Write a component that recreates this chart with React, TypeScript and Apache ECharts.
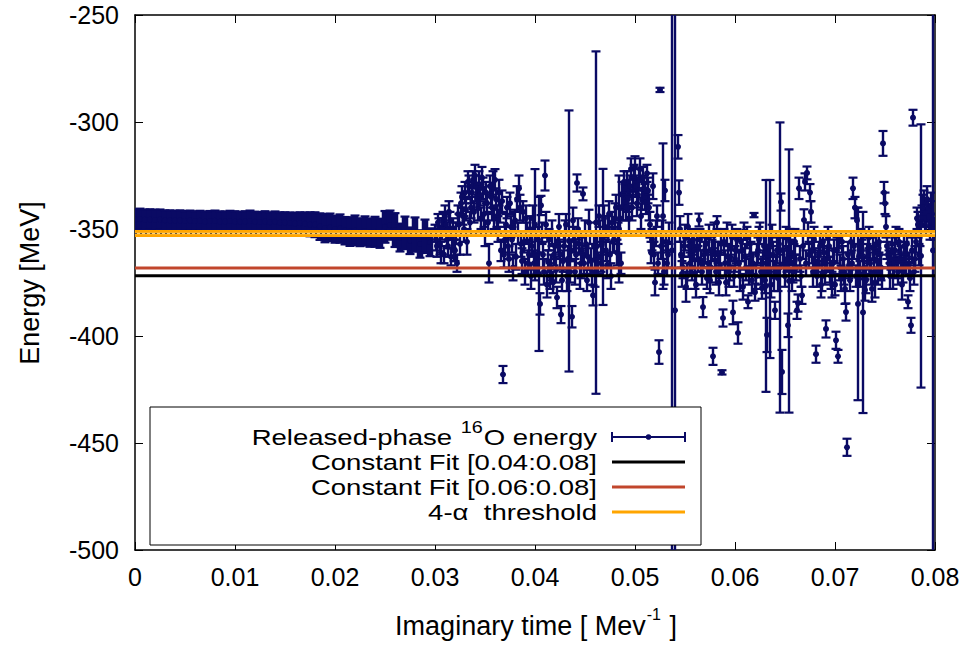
import React, { useEffect, useRef } from "react";
import * as echarts from "echarts";

// ---------------- data ----------------
const xTicks = [0, 0.01, 0.02, 0.03, 0.04, 0.05, 0.06, 0.07, 0.08];
const yTicks = [-500, -450, -400, -350, -300, -250];

// dense, well converged band: time = i * bandStep
const bandStep = 0.0005;
const bandEnergy = [
  -345.6, -345.4, -345.7, -345.5, -345.8, -345.6, -345.9, -346.0, -346.1, -346.0,
  -346.2, -346.1, -346.3, -346.2, -346.4, -346.3, -346.2, -346.4, -346.5, -346.3,
  -346.4, -346.6, -346.5, -346.3, -346.6, -346.7, -346.5, -346.8, -346.6, -346.9,
  -347.0, -347.2, -347.4, -347.3, -347.6, -347.8, -348.0, -348.9, -349.6, -349.2,
  -350.1, -349.8, -350.8, -351.2, -350.6, -351.5, -350.9, -351.7, -351.3, -352.0,
  -349.0, -348.2, -350.5, -354.0, -351.8, -355.5, -352.6, -357.0, -353.4, -356.2,
];
const bandError = [
  4.8, 4.9, 4.8, 4.7, 4.8, 4.7, 4.6, 4.7, 4.6, 4.7,
  4.6, 4.7, 4.6, 4.7, 4.6, 4.7, 4.8, 4.6, 4.7, 4.8,
  4.7, 4.6, 4.8, 4.9, 4.7, 4.6, 4.8, 4.6, 4.8, 4.7,
  4.8, 4.9, 5.0, 5.1, 5.3, 5.6, 5.8, 6.2, 6.6, 6.4,
  6.3, 6.6, 6.4, 6.7, 6.9, 6.5, 6.8, 6.6, 7.0, 6.8,
  7.4, 6.8, 7.9, 6.5, 7.6, 6.2, 8.0, 6.4, 7.8, 6.5,
];

// [time, energy, error]
const scatterEarly: number[][] = [
  [0.0300, -352, 4], [0.0302, -358, 5], [0.0304, -349, 4], [0.0306, -361, 5], [0.0308, -346, 4],
  [0.0310, -344, 5], [0.0312, -355, 4], [0.0314, -342, 5], [0.0316, -363, 4], [0.0318, -350, 5],
  [0.0320, -360, 5], [0.0322, -366, 4], [0.0324, -348, 5], [0.0326, -338, 5], [0.0328, -344, 4],
  [0.0330, -333, 5], [0.0332, -356, 6], [0.0334, -330, 5], [0.0336, -340, 5], [0.0338, -327, 4],
  [0.0340, -325, 5], [0.0342, -336, 5], [0.0344, -329, 6], [0.0346, -345, 5], [0.0348, -331, 5],
  [0.0350, -352, 6], [0.0352, -338, 5], [0.0354, -366, 9], [0.0356, -335, 5], [0.0358, -329, 6],
  [0.0360, -327, 5], [0.0362, -344, 5], [0.0364, -333, 6], [0.0366, -360, 5], [0.0368, -418, 4],
  [0.0370, -355, 6], [0.0372, -340, 5], [0.0374, -364, 6], [0.0376, -349, 5], [0.0378, -368, 6],
  [0.0380, -346, 5], [0.0382, -336, 6], [0.0384, -331, 6], [0.0386, -357, 6], [0.0388, -342, 5],
  [0.0390, -370, 6], [0.0392, -352, 5], [0.0394, -362, 7], [0.0396, -372, 6], [0.0398, -345, 6],
];
const scatterMid: number[][] = [
  [0.0400, -348, 26], [0.0402, -366, 5], [0.0404, -371, 36], [0.0405, -385, 5], [0.0406, -339, 4.5],
  [0.0408, -362, 6], [0.0410, -325, 7], [0.0412, -376, 6], [0.0414, -355, 5], [0.0416, -368, 6],
  [0.0418, -375, 5], [0.0420, -358, 6], [0.0422, -382, 5], [0.0424, -349, 6], [0.0426, -390, 4],
  [0.0428, -365, 5], [0.0430, -352, 6], [0.0432, -372, 7], [0.0434, -355.6, 61], [0.0436, -360, 5],
  [0.0437, -391, 5], [0.0438, -346, 6], [0.0440, -370, 6], [0.0442, -328.5, 4], [0.0444, -357, 5],
  [0.0446, -366, 7], [0.0448, -333.6, 3], [0.0450, -352, 6], [0.0452, -374, 5], [0.0454, -347, 6],
  [0.0456, -365, 6], [0.0458, -381, 4.7], [0.0460, -371, 6], [0.0461, -347, 80], [0.0462, -358, 6],
  [0.0464, -344, 5], [0.0466, -363, 7], [0.0468, -353.7, 31.8], [0.0470, -349, 5], [0.0472, -367, 6],
  [0.0474, -343, 6], [0.0476, -372, 6], [0.0478, -356, 5], [0.0480, -345, 7], [0.0482, -361, 6],
  [0.0484, -350, 25], [0.0486, -366, 5], [0.0488, -340, 6], [0.0490, -335, 6], [0.0492, -328, 5],
  [0.0494, -345, 6], [0.0496, -322, 5], [0.0498, -332, 6],
];
const scatterCentre: number[][] = [
  [0.0500, -321, 5], [0.0502, -338, 6], [0.0504, -327, 5], [0.0506, -344, 6], [0.0508, -326, 5],
  [0.0510, -335, 6], [0.0512, -324, 4], [0.0514, -340, 6], [0.0516, -361, 5], [0.0518, -330, 6],
  [0.0520, -375, 6], [0.0522, -344, 5], [0.0524, -407.5, 5.5], [0.0525, -285, 1], [0.0526, -358, 6],
  [0.0528, -344, 34], [0.0530, -332, 5], [0.0532, -366, 6], [0.0534, -352, 5], [0.0537, -360, 150],
  [0.0540, -388, 150], [0.0543, -311.6, 5.5], [0.0544, -333, 5.7], [0.0545, -350, 6], [0.0547, -371, 6],
  [0.0549, -358, 5], [0.0551, -377, 7], [0.0553, -349, 6], [0.0555, -366, 5],
];
const scatterLateA: number[][] = [
  [0.0556, -362, 6], [0.0558, -355, 5], [0.0560, -371, 7], [0.0562, -358, 6], [0.0564, -345.8, 3],
  [0.0566, -366, 6], [0.0568, -386.5, 4.7], [0.0570, -360, 6], [0.0572, -373, 5], [0.0574, -354, 6],
  [0.0576, -368, 7], [0.0578, -409.5, 4], [0.0580, -362, 6], [0.0582, -347, 3], [0.0584, -375, 6],
  [0.0586, -357, 5], [0.0587, -417, 1], [0.0588, -391.6, 4], [0.0590, -366, 6], [0.0592, -352, 5],
  [0.0594, -370, 7], [0.0596, -359, 6], [0.0598, -389, 5.5], [0.0600, -364, 6], [0.0602, -355, 5],
  [0.0603, -398.6, 5], [0.0605, -372, 7], [0.0607, -360, 5], [0.0609, -351, 4], [0.0611, -368, 6],
  [0.0613, -384, 3], [0.0615, -357, 6], [0.0617, -374, 6], [0.0619, -343.5, 1], [0.0620, -379.5, 4],
  [0.0622, -362, 5], [0.0624, -355, 6], [0.0626, -370, 6], [0.0627, -377.6, 5], [0.0629, -358, 5],
  [0.0631, -376.6, 49.5], [0.0632, -399.5, 8], [0.0633, -365, 6], [0.0635, -368.7, 41.6], [0.0637, -353, 5],
  [0.0639, -372, 7], [0.0640, -388, 4], [0.0642, -360, 6], [0.0644, -357, 5], [0.0645, -368, 67.8],
  [0.0646, -337.4, 4], [0.0647, -416.8, 10.3], [0.0649, -366, 6], [0.0651, -354, 5], [0.0653, -395, 5.5],
  [0.0654, -374.3, 61.5], [0.0656, -361, 6], [0.0658, -370, 5], [0.0660, -356, 6], [0.0662, -388, 4],
  [0.0663, -384.6, 4], [0.0664, -331, 5], [0.0665, -364, 6], [0.0667, -381, 4], [0.0669, -345.8, 5],
  [0.0670, -328, 4], [0.0672, -323.8, 3], [0.0674, -362, 6], [0.0675, -333, 4], [0.0676, -342, 5],
  [0.0678, -370, 7], [0.0679, -355, 6],
];
const scatterLateB: number[][] = [
  [0.0681, -408.5, 4], [0.0683, -366, 6], [0.0685, -358, 5], [0.0687, -372, 7], [0.0689, -361, 6],
  [0.0691, -396.7, 4], [0.0693, -354, 5], [0.0695, -369, 6], [0.0697, -376, 6], [0.0699, -360, 5],
  [0.0701, -402, 4], [0.0703, -409.5, 3], [0.0704, -355, 4], [0.0706, -373, 6], [0.0708, -364, 6],
  [0.0710, -378, 7], [0.0711, -388.8, 4], [0.0712, -452, 4], [0.0714, -367, 6], [0.0716, -356, 5],
  [0.0718, -331, 5], [0.0720, -340, 5], [0.0722, -346, 6], [0.0723, -385, 45], [0.0725, -371, 6],
  [0.0727, -360, 5], [0.0728, -389, 47], [0.0730, -378.5, 5], [0.0732, -363, 6], [0.0734, -354, 5],
  [0.0736, -370, 6], [0.0738, -359, 5], [0.0740, -375, 7], [0.0742, -365, 6], [0.0744, -356, 5],
  [0.0746, -368, 6], [0.0748, -310, 5.8], [0.0749, -333, 5], [0.0750, -338, 5], [0.0751, -349, 5],
  [0.0753, -362, 6], [0.0755, -372, 6], [0.0757, -357, 5], [0.0759, -366, 6], [0.0761, -353, 4],
  [0.0763, -370, 6], [0.0765, -361, 5], [0.0767, -376, 7], [0.0769, -358, 6], [0.0771, -367, 5],
  [0.0773, -384, 3], [0.0775, -373, 6], [0.0776, -395, 3.5], [0.0778, -298, 3.7], [0.0780, -364, 6],
  [0.0782, -345, 5], [0.0784, -362, 5], [0.0786, -362.6, 61.5], [0.0788, -340, 6], [0.0790, -348, 5],
  [0.0792, -336, 6], [0.0794, -344, 5], [0.0796, -339, 6], [0.0798, -360, 160], [0.0799, -350, 5],
];
// additional samples in the crowded region
const scatterFillEarly: number[][] = [
  [0.0301, -355, 5], [0.0303, -347, 4], [0.0305, -357, 5], [0.0307, -350, 5], [0.0309, -362, 4],
  [0.0311, -348, 5], [0.0313, -358, 5], [0.0315, -346, 4], [0.0317, -354, 5], [0.0319, -360, 5],
  [0.0321, -352, 5], [0.0323, -343, 4], [0.0325, -357, 5], [0.0327, -335, 5], [0.0329, -350, 6],
  [0.0331, -341, 5], [0.0333, -328, 5], [0.0335, -347, 5], [0.0337, -333, 5], [0.0339, -342, 5],
  [0.0341, -330, 5], [0.0343, -340, 6], [0.0345, -334, 5], [0.0347, -326, 5], [0.0349, -343, 6],
  [0.0351, -333, 5], [0.0353, -347, 5], [0.0355, -330, 5], [0.0357, -340, 6], [0.0359, -345, 5],
  [0.0361, -336, 5], [0.0363, -350, 6], [0.0365, -342, 5], [0.0367, -337, 5], [0.0369, -362, 6],
  [0.0371, -348, 5], [0.0373, -358, 6], [0.0375, -338, 5], [0.0377, -355, 6], [0.0379, -347, 5],
  [0.0381, -363, 6], [0.0383, -352, 5], [0.0385, -340, 6], [0.0387, -365, 6], [0.0389, -356, 5],
  [0.0391, -345, 6], [0.0393, -366, 6], [0.0395, -350, 6], [0.0397, -358, 5], [0.0399, -366, 6],
];
const scatterFillMid: number[][] = [
  [0.0403, -355, 6], [0.0407, -352, 5], [0.0409, -370, 6], [0.0411, -348, 6], [0.0413, -365, 5],
  [0.0415, -372, 6], [0.0417, -352, 6], [0.0419, -362, 5], [0.0421, -369, 6], [0.0423, -356, 5],
  [0.0425, -362, 6], [0.0427, -374, 5], [0.0429, -358, 6], [0.0431, -348, 5], [0.0433, -364, 6],
  [0.0435, -370, 5], [0.0439, -355, 6], [0.0441, -362, 6], [0.0443, -350, 5], [0.0445, -372, 6],
  [0.0447, -360, 6], [0.0449, -366, 5], [0.0451, -357, 6], [0.0453, -363, 6], [0.0455, -352, 5],
  [0.0457, -370, 6], [0.0459, -358, 6], [0.0463, -366, 5], [0.0465, -352, 6], [0.0467, -357, 5],
  [0.0469, -345, 6], [0.0471, -360, 5], [0.0473, -350, 6], [0.0475, -362, 6], [0.0477, -347, 5],
  [0.0479, -355, 6], [0.0481, -340, 6], [0.0483, -352, 5], [0.0485, -345, 6], [0.0487, -334, 6],
  [0.0489, -328, 5], [0.0491, -340, 6], [0.0493, -336, 6], [0.0495, -330, 5], [0.0497, -340, 6],
  [0.0499, -326, 6], [0.0501, -330, 5], [0.0503, -334, 6], [0.0505, -322, 5], [0.0507, -336, 5],
  [0.0509, -331, 6], [0.0511, -338, 5], [0.0513, -332, 6], [0.0515, -348, 6], [0.0517, -355, 5],
  [0.0519, -362, 6], [0.0521, -352, 6], [0.0523, -366, 5], [0.0527, -352, 6], [0.0529, -370, 6],
  [0.0531, -356, 5], [0.0533, -362, 6],
];
const scatterFillLate: number[][] = [
  [0.0546, -362, 6], [0.0548, -368, 5], [0.0550, -354, 6], [0.0552, -372, 6], [0.0554, -358, 5],
  [0.0557, -368, 6], [0.0559, -360, 5], [0.0561, -376, 6], [0.0563, -364, 6], [0.0565, -355, 5],
  [0.0567, -370, 6], [0.0569, -362, 6], [0.0571, -357, 5], [0.0573, -366, 6], [0.0575, -374, 6],
  [0.0577, -360, 5], [0.0579, -353, 6], [0.0581, -370, 6], [0.0583, -361, 5], [0.0585, -367, 6],
  [0.0589, -356, 6], [0.0591, -375, 6], [0.0593, -363, 5], [0.0595, -368, 6], [0.0597, -354, 6],
  [0.0599, -372, 5], [0.0601, -360, 6], [0.0604, -366, 6], [0.0606, -356, 5], [0.0608, -377, 6],
  [0.0610, -363, 6], [0.0612, -354, 5], [0.0614, -370, 6], [0.0616, -362, 6], [0.0618, -366, 5],
  [0.0621, -372, 6], [0.0623, -360, 6], [0.0625, -352, 5], [0.0628, -366, 6], [0.0630, -374, 6],
  [0.0634, -358, 5], [0.0636, -376, 6], [0.0638, -362, 6], [0.0641, -368, 5], [0.0643, -373, 6],
  [0.0648, -360, 6], [0.0650, -372, 5], [0.0652, -364, 6], [0.0655, -356, 6], [0.0657, -374, 5],
  [0.0659, -363, 6], [0.0661, -368, 6], [0.0666, -372, 5], [0.0668, -358, 6], [0.0671, -366, 6],
  [0.0673, -352, 5], [0.0677, -360, 6], [0.0680, -365, 6], [0.0682, -372, 5], [0.0684, -362, 6],
  [0.0686, -376, 6], [0.0688, -356, 5], [0.0690, -370, 6], [0.0692, -364, 6], [0.0694, -358, 5],
  [0.0696, -372, 6], [0.0698, -366, 6], [0.0700, -376, 5], [0.0702, -360, 6], [0.0705, -368, 6],
  [0.0707, -356, 5], [0.0709, -370, 6], [0.0713, -362, 6], [0.0715, -374, 5], [0.0717, -366, 6],
  [0.0719, -358, 6], [0.0721, -372, 5], [0.0724, -363, 6], [0.0726, -356, 6], [0.0729, -368, 5],
  [0.0731, -374, 6], [0.0733, -360, 6], [0.0735, -366, 5], [0.0737, -378, 6], [0.0739, -364, 6],
  [0.0741, -357, 5], [0.0743, -370, 6], [0.0745, -362, 6], [0.0747, -373, 5], [0.0752, -358, 6],
  [0.0754, -366, 6], [0.0756, -364, 5], [0.0758, -372, 6], [0.0760, -360, 6], [0.0762, -368, 5],
  [0.0764, -356, 6], [0.0766, -364, 6], [0.0768, -370, 5], [0.0770, -362, 6], [0.0772, -357, 6],
  [0.0774, -366, 5], [0.0777, -360, 6], [0.0779, -370, 6], [0.0781, -356, 5], [0.0783, -348, 6],
  [0.0785, -352, 6], [0.0787, -344, 5], [0.0789, -338, 6], [0.0791, -346, 6], [0.0793, -341, 5],
  [0.0795, -349, 6], [0.0797, -343, 6],
];

const fitRange004 = -371.8;
const fitRange006 = -368.2;
const alphaThreshold = -352.1;

const legendLabels = [
  "Constant Fit [0.04:0.08]",
  "Constant Fit [0.06:0.08]",
  "4-\u03b1  threshold",
];

// ---------------- style ----------------
const FONT = '"Liberation Sans", Arial, Helvetica, sans-serif';
const NAVY = "#0a0a64";
const BLACK = "#000000";
const RED = "#c1462c";
const ORANGE = "#ffa500";

function textWidth(s: string, size: number): number {
  const ctx = document.createElement("canvas").getContext("2d");
  if (!ctx) return s.length * size * 0.55;
  ctx.font = `${size}px "Liberation Sans"`;
  return ctx.measureText(s).width;
}

function errRenderer(barWidth: number, cap: number, r: number) {
  return (params: any, api: any) => {
    const t = api.value(0);
    const e = api.value(1);
    const d = api.value(2);
    const c = api.coord([t, e]);
    const hi = api.coord([t, e + d]);
    const lo = api.coord([t, e - d]);
    const capSt = { stroke: NAVY, lineWidth: 2.2 };
    return {
      type: "group",
      children: [
        {
          type: "rect",
          shape: { x: c[0] - barWidth / 2, y: hi[1], width: barWidth, height: lo[1] - hi[1] },
          style: { fill: NAVY },
        },
        { type: "line", shape: { x1: c[0] - cap, y1: hi[1], x2: c[0] + cap, y2: hi[1] }, style: capSt },
        { type: "line", shape: { x1: c[0] - cap, y1: lo[1], x2: c[0] + cap, y2: lo[1] }, style: capSt },
        { type: "circle", shape: { cx: c[0], cy: c[1], r }, style: { fill: NAVY } },
      ],
    };
  };
}

export default function App() {
  const ref = useRef<HTMLDivElement>(null);

  useEffect(() => {
    if (!ref.current) return;
    const chart = echarts.init(ref.current, undefined, { renderer: "svg" });

    const bandData = bandEnergy.map((v, i) => [i * bandStep, v, bandError[i]]);
    const scatterData = [
      ...scatterEarly,
      ...scatterFillEarly,
      ...scatterMid,
      ...scatterFillMid,
      ...scatterCentre,
      ...scatterLateA,
      ...scatterFillLate,
      ...scatterLateB,
    ];

    const hLine = (v: number) => [
      [xTicks[0], v],
      [xTicks[xTicks.length - 1], v],
    ];

    const axisCommon = {
      type: "value",
      axisLine: { show: true, onZero: false, lineStyle: { color: BLACK, width: 1.5 } },
      axisTick: { show: true, inside: true, length: 8, lineStyle: { color: BLACK, width: 1 } },
      splitLine: { show: false },
    };

    // legend geometry
    const LX = 150, LY = 407, LW = 551, LH = 138;
    const textRight = 597;
    const sampleX1 = 612, sampleX2 = 685;
    const rowY = [437, 462, 487, 512];
    const LFS = 22.2;   // glyph height
    const LSX = 1.24;   // horizontal stretch of the legend lettering
    const SUP = 16;

    const wOE = textWidth("O energy", LFS) * LSX;
    const w16 = textWidth("16", SUP) * LSX;

    const xTitleA = "Imaginary time [ Mev";
    const xTitleB = " ]";
    const TFS = 27;
    const wA = textWidth(xTitleA, TFS);
    const wSup = textWidth("-1", SUP);
    const wB = textWidth(xTitleB, TFS);
    const xStart = 535 - (wA + wSup + wB) / 2;

    const txt = (x: number, y: number, s: string, size: number, align: string, sx = 1) => ({
      type: "text",
      x,
      y,
      scaleX: sx,
      style: {
        text: s,
        fontSize: size,
        fontFamily: FONT,
        fill: BLACK,
        align,
        verticalAlign: "middle",
      },
    });

    const graphic: any[] = [
      {
        type: "rect",
        shape: { x: LX, y: LY, width: LW, height: LH },
        style: { fill: "#ffffff", stroke: BLACK, lineWidth: 1 },
      },
      txt(textRight, rowY[0], "O energy", LFS, "right", LSX),
      txt(textRight - wOE - 1, rowY[0] - 9, "16", SUP, "right", LSX),
      txt(textRight - wOE - w16 - 2, rowY[0], "Released-phase ", LFS, "right", LSX),
      txt(textRight, rowY[1], legendLabels[0], LFS, "right", LSX),
      txt(textRight, rowY[2], legendLabels[1], LFS, "right", LSX),
      txt(textRight, rowY[3], legendLabels[2], LFS, "right", LSX),
      { type: "line", shape: { x1: sampleX1, y1: rowY[0], x2: sampleX2, y2: rowY[0] }, style: { stroke: NAVY, lineWidth: 2 } },
      { type: "line", shape: { x1: sampleX1, y1: rowY[0] - 5, x2: sampleX1, y2: rowY[0] + 5 }, style: { stroke: NAVY, lineWidth: 2 } },
      { type: "line", shape: { x1: sampleX2, y1: rowY[0] - 5, x2: sampleX2, y2: rowY[0] + 5 }, style: { stroke: NAVY, lineWidth: 2 } },
      { type: "circle", shape: { cx: (sampleX1 + sampleX2) / 2, cy: rowY[0], r: 2.8 }, style: { fill: NAVY } },
      { type: "line", shape: { x1: sampleX1, y1: rowY[1], x2: sampleX2, y2: rowY[1] }, style: { stroke: BLACK, lineWidth: 3 } },
      { type: "line", shape: { x1: sampleX1, y1: rowY[2], x2: sampleX2, y2: rowY[2] }, style: { stroke: RED, lineWidth: 3 } },
      { type: "line", shape: { x1: sampleX1, y1: rowY[3], x2: sampleX2, y2: rowY[3] }, style: { stroke: ORANGE, lineWidth: 3 } },
      {
        type: "text",
        x: 30,
        y: 283,
        rotation: Math.PI / 2,
        style: {
          text: "Energy [MeV]",
          fontSize: TFS,
          fontFamily: FONT,
          fill: BLACK,
          align: "center",
          verticalAlign: "middle",
        },
      },
      txt(xStart, 626, xTitleA, TFS, "left"),
      txt(xStart + wA + 1, 614, "-1", SUP, "left"),
      txt(xStart + wA + wSup + 2, 626, xTitleB, TFS, "left"),
    ].map((g) => ({ ...g, z: 100 }));

    const option: any = {
      animation: false,
      backgroundColor: "#ffffff",
      textStyle: { fontFamily: FONT },
      grid: { left: 135, right: 36, top: 15, bottom: 96, containLabel: false },
      graphic,
      xAxis: [
        {
          ...axisCommon,
          position: "bottom",
          min: xTicks[0],
          max: xTicks[xTicks.length - 1],
          interval: 0.01,
          axisLabel: {
            show: true,
            fontSize: 25,
            color: BLACK,
            fontFamily: FONT,
            margin: 14,
            formatter: (v: number) => (Math.abs(v) < 1e-9 ? "0" : v.toFixed(2)),
          },
        },
        {
          ...axisCommon,
          position: "top",
          min: xTicks[0],
          max: xTicks[xTicks.length - 1],
          interval: 0.01,
          axisLabel: { show: false },
        },
      ],
      yAxis: [
        {
          ...axisCommon,
          position: "left",
          min: yTicks[0],
          max: yTicks[yTicks.length - 1],
          interval: 50,
          axisLabel: { show: true, fontSize: 25, color: BLACK, fontFamily: FONT, margin: 16 },
        },
        {
          ...axisCommon,
          position: "right",
          min: yTicks[0],
          max: yTicks[yTicks.length - 1],
          interval: 50,
          axisLabel: { show: false },
        },
      ],
      series: [
        {
          type: "custom",
          name: "band",
          data: bandData,
          renderItem: errRenderer(6.5, 4.5, 3),
          clip: true,
          z: 2,
        },
        {
          type: "custom",
          name: "Released-phase 16O energy",
          data: scatterData,
          renderItem: errRenderer(2.4, 4.5, 3),
          clip: true,
          z: 2,
        },
        {
          type: "line",
          data: hLine(alphaThreshold),
          symbol: "none",
          lineStyle: { color: ORANGE, width: 7 },
          z: 5,
        },
        {
          type: "line",
          data: hLine(alphaThreshold),
          symbol: "none",
          lineStyle: { color: "#f8cf7a", width: 1.5 },
          z: 6,
        },
        {
          type: "line",
          data: hLine(alphaThreshold),
          symbol: "none",
          lineStyle: { color: "#6a5a3a", width: 1, type: [2, 3] },
          z: 7,
        },
        {
          type: "line",
          data: hLine(fitRange006),
          symbol: "none",
          lineStyle: { color: RED, width: 3 },
          z: 5,
        },
        {
          type: "line",
          data: hLine(fitRange004),
          symbol: "none",
          lineStyle: { color: BLACK, width: 3 },
          z: 5,
        },
      ],
    };

    chart.setOption(option);
    return () => chart.dispose();
  }, []);

  return (
    <div
      ref={ref}
      style={{ position: "fixed", left: 0, top: 0, width: 971, height: 646, background: "#fff" }}
    />
  );
}
